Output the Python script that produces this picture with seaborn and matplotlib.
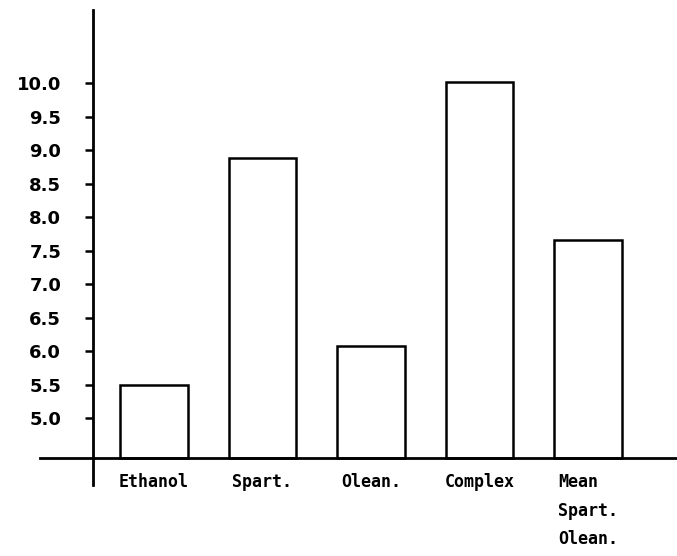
import pandas as pd
import matplotlib
matplotlib.use("Agg")
import matplotlib.pyplot as plt
import seaborn as sns

# values
categories = ["Ethanol", "Spart.", "Olean.", "Complex", "Mean\nSpart.\nOlean."]
values = [5.5, 8.88, 6.08, 10.02, 7.66]
y_ticks = [5.0, 5.5, 6.0, 6.5, 7.0, 7.5, 8.0, 8.5, 9.0, 9.5, 10.0]
baseline = 4.4

df = pd.DataFrame({"group": categories, "value": values})

sns.set_style("white")
plt.rcParams["font.family"] = ["DejaVu Sans"]
plt.rcParams["text.color"] = "black"
plt.rcParams["xtick.color"] = "black"
plt.rcParams["ytick.color"] = "black"

fig = plt.figure(figsize=(6.77, 5.56), dpi=100)
ax = fig.add_axes([40 / 677, (556 - 485) / 556, 637 / 677, 475 / 556])

sns.barplot(data=df, x="group", y="value", color="white", edgecolor="black",
            linewidth=1.8, width=0.62, ax=ax)

# bars stand on the drawn baseline, not on zero
for bar in ax.patches:
    top = bar.get_y() + bar.get_height()
    bar.set_y(baseline)
    bar.set_height(top - baseline)

ax.set_ylim(4.0, 11.09)
ax.set_xlim(-1.05, 4.82)

# axis lines cross like the hand-drawn original
for side in ["top", "right"]:
    ax.spines[side].set_visible(False)
ax.spines["left"].set_position(("data", -0.56))
ax.spines["bottom"].set_position(("data", baseline))
for side in ["left", "bottom"]:
    ax.spines[side].set_linewidth(2.0)
    ax.spines[side].set_color("black")

ax.set_yticks(y_ticks)
ax.set_yticklabels([f"{t:.1f}" for t in y_ticks], fontsize=13, fontweight="bold")
ax.tick_params(axis="y", direction="out", length=6, width=1.8, pad=17, left=True,
               labelcolor="black")
ax.tick_params(axis="x", length=0, pad=11, labelcolor="black")
for lab in ax.get_xticklabels():
    lab.set_family("DejaVu Sans Mono")
    lab.set_fontsize(12)
    lab.set_fontweight("bold")
    lab.set_verticalalignment("top")
    lab.set_multialignment("left")
    lab.set_linespacing(1.75)

ax.set_xlabel("")
ax.set_ylabel("")

fig.savefig("out.png", dpi=100)
